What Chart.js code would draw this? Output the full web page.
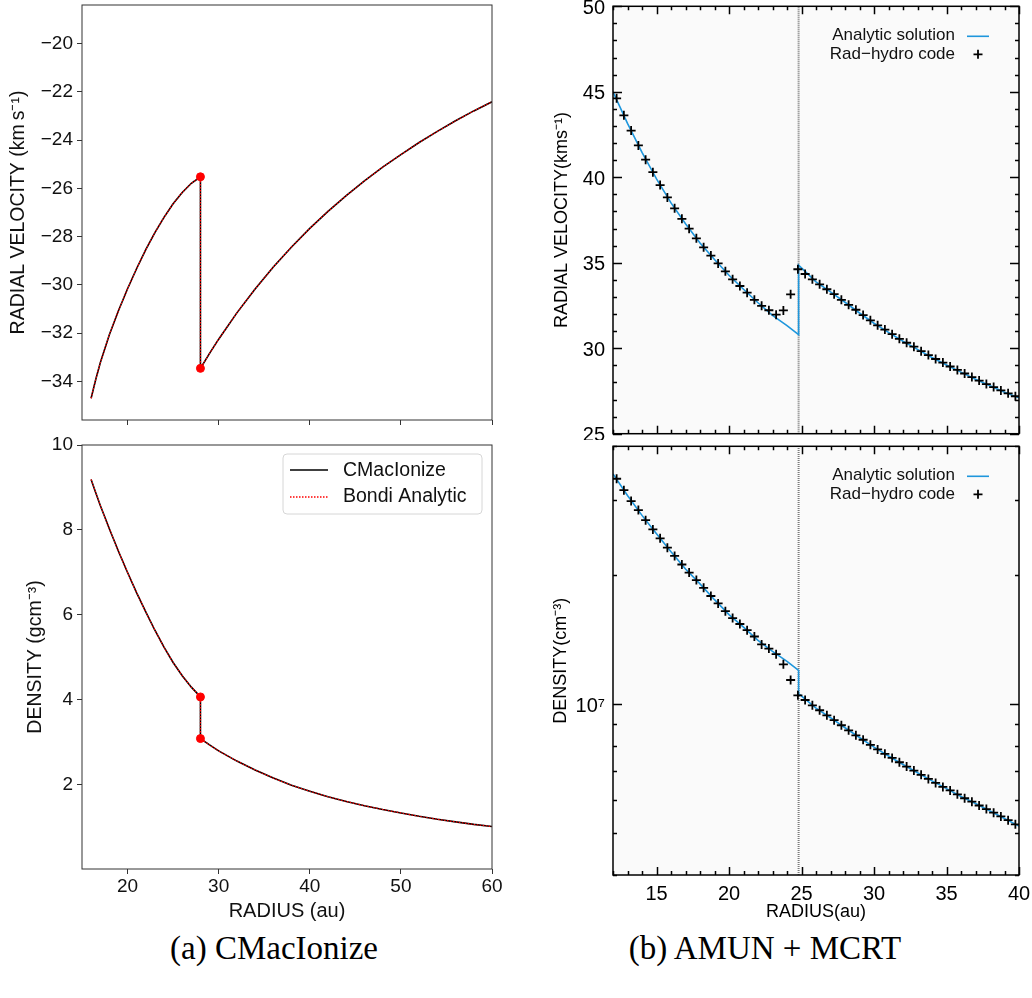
<!DOCTYPE html>
<html>
<head>
<meta charset="utf-8">
<script src="https://cdn.jsdelivr.net/npm/chart.js@4.4.1/dist/chart.umd.min.js"></script>
<style>
  body { margin: 0; background: #fff; width: 1032px; height: 998px; position: relative; overflow: hidden; }
  canvas { position: absolute; }
  .cap { position: absolute; text-align: center; font-family: "Liberation Serif", serif; font-size: 33px; line-height: 40px; color: #000; }
</style>
</head>
<body>
<canvas id="velA" width="512" height="428" style="left:0;top:0"></canvas>
<canvas id="denA" width="512" height="498" style="left:0;top:425px"></canvas>
<canvas id="velB" width="512" height="440" style="left:520px;top:0"></canvas>
<canvas id="denB" width="512" height="483" style="left:520px;top:440px"></canvas>
<div class="cap" style="left:0;width:548px;top:928px">(a) CMacIonize</div>
<div class="cap" style="left:530px;width:470px;top:928px">(b) AMUN + MCRT</div>
<script>
// (a) CMacIonize - radius in au, jump at the shock (x = 28 twice)
const radiusA = [16, 16.5, 17, 18, 19, 20, 21, 22, 23, 24, 25, 26, 27, 28, 28, 29, 30, 32, 34, 36, 38, 40, 42, 44, 46, 48, 50, 52, 54, 56, 58, 60];
const velocityA = [-34.7, -33.93, -33.24, -32.07, -31.07, -30.16, -29.32, -28.54, -27.83, -27.2, -26.64, -26.17, -25.79, -25.52,
                   -33.46, -32.84, -32.25, -31.16, -30.17, -29.26, -28.43, -27.66, -26.95, -26.3, -25.69, -25.12, -24.6, -24.1, -23.64, -23.2, -22.79, -22.41];
const densityA = [9.19, 8.88, 8.58, 8.03, 7.5, 7.0, 6.52, 6.07, 5.64, 5.24, 4.88, 4.57, 4.3, 4.07,
                  3.09, 2.94, 2.8, 2.56, 2.35, 2.16, 1.99, 1.85, 1.72, 1.61, 1.51, 1.42, 1.34, 1.26, 1.19, 1.13, 1.07, 1.02];
const shockA = 28;
const shockVelA = [-25.52, -33.46];
const shockDenA = [4.07, 3.09];
const ticksXA = [20, 30, 40, 50, 60];
const ticksVelA = [-34, -32, -30, -28, -26, -24, -22, -20];
const ticksDenA = [2, 4, 6, 8, 10];

// (b) AMUN + MCRT - code points (crosses)
const radiusB = [12.25, 12.75, 13.25, 13.75, 14.25, 14.75, 15.25, 15.75, 16.25, 16.75, 17.25, 17.75, 18.25, 18.75,
                 19.25, 19.75, 20.25, 20.75, 21.25, 21.75, 22.25, 22.75, 23.25, 23.75, 24.25, 24.75,
                 25.25, 25.75, 26.25, 26.75, 27.25, 27.75, 28.25, 28.75, 29.25, 29.75, 30.25, 30.75, 31.25, 31.75,
                 32.25, 32.75, 33.25, 33.75, 34.25, 34.75, 35.25, 35.75, 36.25, 36.75, 37.25, 37.75, 38.25, 38.75, 39.25, 39.75];
const velocityB = [44.62, 43.62, 42.73, 41.86, 41.03, 40.3, 39.54, 38.82, 38.18, 37.57, 36.99, 36.43, 35.9, 35.42,
                   34.96, 34.5, 34.03, 33.64, 33.25, 32.83, 32.48, 32.22, 31.96, 32.21, 33.15, 34.62,
                   34.34, 34.03, 33.74, 33.45, 33.16, 32.83, 32.54, 32.25, 31.94, 31.63, 31.34, 31.09, 30.82, 30.55,
                   30.32, 30.09, 29.83, 29.6, 29.37, 29.16, 28.93, 28.73, 28.52, 28.31, 28.11, 27.9, 27.73, 27.53, 27.36, 27.19];
const densityB = [3.36e7, 3.16e7, 2.98e7, 2.84e7, 2.69e7, 2.56e7, 2.44e7, 2.32e7, 2.22e7, 2.12e7, 2.03e7, 1.95e7, 1.87e7, 1.79e7,
                  1.72e7, 1.65e7, 1.59e7, 1.54e7, 1.49e7, 1.44e7, 1.38e7, 1.35e7, 1.31e7, 1.24e7, 1.14e7, 1.05e7,
                  1.024e7, 9.95e6, 9.69e6, 9.43e6, 9.19e6, 8.94e6, 8.7e6, 8.47e6, 8.27e6, 8.05e6, 7.85e6, 7.67e6, 7.5e6, 7.33e6,
                  7.16e6, 7.01e6, 6.85e6, 6.7e6, 6.56e6, 6.42e6, 6.3e6, 6.17e6, 6.04e6, 5.93e6, 5.81e6, 5.7e6, 5.59e6, 5.48e6, 5.37e6, 5.25e6];
// analytic solution (blue line), jump at 24.8
const radiusBAn = [12, 13, 14, 15, 16, 17, 18, 19, 20, 21, 22, 23, 24, 24.8, 24.8, 26, 27, 28, 29, 30, 31, 32, 33, 34, 35, 36, 37, 38, 39, 40];
const velocityBAn = [45.0, 43.15, 41.45, 39.9, 38.5, 37.28, 36.16, 35.19, 34.27, 33.45, 32.66, 31.92, 31.32, 30.8,
                     34.86, 33.88, 33.3, 32.69, 32.06, 31.46, 30.93, 30.41, 29.93, 29.46, 29.02, 28.6, 28.19, 27.8, 27.43, 27.1];
const densityBAn = [3.45e7, 3.07e7, 2.76e7, 2.5e7, 2.27e7, 2.07e7, 1.91e7, 1.755e7, 1.62e7, 1.515e7, 1.41e7, 1.33e7, 1.26e7, 1.2e7,
                    1.06e7, 9.8e6, 9.31e6, 8.82e6, 8.37e6, 7.95e6, 7.58e6, 7.24e6, 6.93e6, 6.63e6, 6.36e6, 6.1e6, 5.87e6, 5.64e6, 5.42e6, 5.2e6];
const shockB = 24.8;
const ticksXB = [12, 13, 14, 15, 16, 17, 18, 19, 20, 21, 22, 23, 24, 25, 26, 27, 28, 29, 30, 31, 32, 33, 34, 35, 36, 37, 38, 39, 40];
const ticksVelB = [25, 26, 27, 28, 29, 30, 31, 32, 33, 34, 35, 36, 37, 38, 39, 40, 41, 42, 43, 44, 45, 46, 47, 48, 49, 50];
const ticksDenB = [4e6, 5e6, 6e6, 7e6, 8e6, 9e6, 1e7, 2e7, 3e7, 4e7];

const analyticBlue = '#1e96dc';
Chart.defaults.font.family = '"Liberation Sans", Arial, sans-serif';
Chart.defaults.color = '#111';
Chart.defaults.animation = false;

function pts(xs, ys) {
    return xs.map((x, i) => ({ x: x, y: ys[i] }));
}
function setTicks(list) {
    return (scale) => { scale.ticks = list.map(v => ({ value: v })); };
}
// fixed axis sizes, no extra room for labels at the ends
function fixY(w) {
    return (s) => { s.width = w; s.paddingTop = 0; s.paddingBottom = 0; };
}
function fixX(h) {
    return (s) => { s.height = h; s.paddingLeft = 0; s.paddingRight = 0; };
}

// box around the plot area, optional background
function framePlugin(color, width, fill) {
    return {
        id: 'frame',
        beforeDraw(chart) {
            if (!fill) return;
            const a = chart.chartArea;
            chart.ctx.save();
            chart.ctx.fillStyle = fill;
            chart.ctx.fillRect(a.left, a.top, a.width, a.height);
            chart.ctx.restore();
        },
        afterDraw(chart) {
            const { ctx, chartArea: a } = chart;
            ctx.save();
            ctx.strokeStyle = color;
            ctx.lineWidth = width;
            ctx.strokeRect(a.left, a.top, a.width, a.height);
            ctx.restore();
        }
    };
}

// IDL style ticks: inside, on all four sides
function inTicksPlugin(isMajorY) {
    return {
        id: 'inTicks',
        afterDraw(chart) {
            const { ctx, chartArea: a, scales } = chart;
            ctx.save();
            ctx.strokeStyle = '#000';
            ctx.lineWidth = 1.5;
            ctx.beginPath();
            scales.x.ticks.forEach(t => {
                const px = Math.round(scales.x.getPixelForValue(t.value)) + 0.5;
                const len = t.value % 5 === 0 ? 8 : 4;
                ctx.moveTo(px, a.bottom); ctx.lineTo(px, a.bottom - len);
                ctx.moveTo(px, a.top); ctx.lineTo(px, a.top + len);
            });
            scales.y.ticks.forEach(t => {
                const py = Math.round(scales.y.getPixelForValue(t.value)) + 0.5;
                const len = isMajorY(t.value) ? 9 : 4;
                ctx.moveTo(a.left, py); ctx.lineTo(a.left + len, py);
                ctx.moveTo(a.right, py); ctx.lineTo(a.right - len, py);
            });
            ctx.stroke();
            ctx.restore();
        }
    };
}

// legend of the right panels: text right-aligned, symbol after it
function idlLegendPlugin() {
    return {
        id: 'idlLegend',
        afterDraw(chart) {
            const { ctx, chartArea: a } = chart;
            const ds = chart.data.datasets;
            ctx.save();
            ctx.font = '17px "Liberation Sans"';
            ctx.fillStyle = '#111';
            ctx.textAlign = 'right';
            ctx.textBaseline = 'middle';
            ctx.fillText(ds[1].label, a.right - 64, a.top + 29);
            ctx.fillText(ds[2].label, a.right - 64, a.top + 48);
            ctx.strokeStyle = analyticBlue;
            ctx.lineWidth = 1.6;
            ctx.beginPath();
            ctx.moveTo(a.right - 52, a.top + 30); ctx.lineTo(a.right - 30, a.top + 30);
            ctx.stroke();
            ctx.strokeStyle = '#000';
            ctx.lineWidth = 1.8;
            ctx.beginPath();
            ctx.moveTo(a.right - 45.5, a.top + 48); ctx.lineTo(a.right - 36.5, a.top + 48);
            ctx.moveTo(a.right - 41, a.top + 43.5); ctx.lineTo(a.right - 41, a.top + 52.5);
            ctx.stroke();
            ctx.restore();
        }
    };
}

// matplotlib style legend box
function mplLegendPlugin() {
    return {
        id: 'mplLegend',
        afterDraw(chart) {
            const { ctx, chartArea: a } = chart;
            const ds = chart.data.datasets;
            const bx = a.right - 209, by = a.top + 9, bw = 199, bh = 60;
            ctx.save();
            ctx.beginPath();
            ctx.roundRect(bx, by, bw, bh, 4);
            ctx.fillStyle = 'rgba(255,255,255,0.85)';
            ctx.fill();
            ctx.strokeStyle = '#d6d6d6';
            ctx.lineWidth = 1;
            ctx.stroke();
            ctx.lineWidth = 1.5;
            ctx.strokeStyle = '#000';
            ctx.beginPath();
            ctx.moveTo(bx + 7, by + 16); ctx.lineTo(bx + 45, by + 16);
            ctx.stroke();
            ctx.strokeStyle = '#ff0000';
            ctx.setLineDash([1.5, 1.5]);
            ctx.beginPath();
            ctx.moveTo(bx + 7, by + 43); ctx.lineTo(bx + 45, by + 43);
            ctx.stroke();
            ctx.setLineDash([]);
            ctx.font = '19.5px "Liberation Sans"';
            ctx.fillStyle = '#111';
            ctx.textBaseline = 'middle';
            ctx.fillText(ds[0].label, bx + 60, by + 17);
            ctx.fillText(ds[1].label, bx + 60, by + 43);
            ctx.restore();
        }
    };
}

const gridA = { drawOnChartArea: false, drawTicks: true, tickLength: 5, color: '#333', lineWidth: 1 };

function leftPanel(id, ys, dotY, range, yTicks, yTitle, yTitlePad, bottom) {
    new Chart(document.getElementById(id), {
        type: 'scatter',
        data: {
            datasets: [
                { label: 'CMacIonize', data: pts(radiusA, ys), showLine: true, borderColor: '#000', borderWidth: 1.6, pointRadius: 0, order: 3 },
                { label: 'Bondi Analytic', data: pts(radiusA, ys), showLine: true, borderColor: '#ff0000', borderWidth: 1.2, borderDash: [1.5, 1.5], pointRadius: 0, order: 2 },
                { label: 'shock', data: dotY.map(y => ({ x: shockA, y: y })), pointRadius: 4, backgroundColor: '#ff0000', borderColor: '#ff0000', order: 1 }
            ]
        },
        options: {
            responsive: false,
            layout: { padding: { top: bottom ? 20 : 2, right: 20, left: 0, bottom: 0 } },
            plugins: { legend: { display: false }, tooltip: { enabled: false } },
            scales: {
                x: {
                    type: 'linear', min: 15, max: 60,
                    afterBuildTicks: setTicks(ticksXA),
                    afterFit: fixX(bottom ? 54 : 8),
                    grid: gridA, border: { display: false },
                    ticks: { display: bottom, padding: 1, color: '#111', font: { size: 19 } },
                    title: { display: bottom, text: 'RADIUS (au)', color: '#111', font: { size: 20 }, padding: 0 }
                },
                y: {
                    type: 'linear', min: range[0], max: range[1],
                    afterBuildTicks: setTicks(yTicks),
                    afterFit: fixY(82),
                    grid: gridA, border: { display: false },
                    ticks: { padding: 4, color: '#111', font: { size: 19 }, callback: v => (v < 0 ? '\u2212' + Math.abs(v) : String(v)) },
                    title: { display: true, text: yTitle, color: '#111', font: { size: 19.5 }, padding: { top: yTitlePad, bottom: 0 } }
                }
            }
        },
        plugins: bottom ? [framePlugin('#333', 1), mplLegendPlugin()] : [framePlugin('#333', 1)]
    });
}

leftPanel('velA', velocityA, shockVelA, [-35.6, -18.4], ticksVelA, 'RADIAL VELOCITY (km\u2009s\u207B\u00B9)', 7, false);
leftPanel('denA', densityA, shockDenA, [0.02, 10], ticksDenA, 'DENSITY (gcm\u207B\u00B3)', 24, true);

function rightPanel(id, ys, ysAn, yScale, yTitle, bottom, isMajorY, yLabel) {
    new Chart(document.getElementById(id), {
        type: 'scatter',
        data: {
            datasets: [
                { label: 'shock', data: [{ x: shockB, y: yScale.min }, { x: shockB, y: yScale.max }], showLine: true, borderColor: '#7a7a7a', borderWidth: 2, borderDash: [1, 1], pointRadius: 0, order: 3 },
                { label: 'Analytic solution', data: pts(radiusBAn, ysAn), showLine: true, borderColor: analyticBlue, borderWidth: 1.6, pointRadius: 0, order: 2 },
                { label: 'Rad\u2212hydro code', data: pts(radiusB, ys), pointStyle: 'cross', pointRadius: 4.5, borderColor: '#000', borderWidth: 1.8, order: 1 }
            ]
        },
        options: {
            responsive: false,
            layout: { padding: { top: 4, right: 13, left: 0, bottom: 0 } },
            plugins: { legend: { display: false }, tooltip: { enabled: false } },
            scales: {
                x: {
                    type: 'linear', min: 12, max: 40,
                    afterBuildTicks: setTicks(ticksXB),
                    afterFit: fixX(bottom ? 48 : 5),
                    grid: { display: false, drawTicks: false }, border: { display: false },
                    ticks: { display: bottom, autoSkip: false, maxRotation: 0, padding: 7, color: '#000', font: { size: 20 }, callback: v => (v % 5 === 0 ? String(v) : '') },
                    title: { display: bottom, text: 'RADIUS(au)', color: '#000', font: { size: 18 }, padding: 0 }
                },
                y: Object.assign({
                    afterFit: fixY(93),
                    grid: { display: false, drawTicks: false }, border: { display: false },
                    ticks: { autoSkip: false, padding: 8, labelOffset: 2, color: '#000', font: { size: 20 }, callback: yLabel },
                    title: { display: true, text: yTitle, color: '#000', font: { size: 18 }, padding: { top: bottom ? 30 : 31, bottom: 0 } }
                }, yScale)
            }
        },
        plugins: [framePlugin('#000', 1.5, '#fafafa'), inTicksPlugin(isMajorY), idlLegendPlugin()]
    });
}

rightPanel('velB', velocityB, velocityBAn,
    { type: 'linear', min: 25, max: 50, afterBuildTicks: setTicks(ticksVelB) },
    'RADIAL VELOCITY(kms\u207B\u00B9)', false,
    v => v % 5 === 0, v => (v % 5 === 0 ? String(v) : ''));
rightPanel('denB', densityB, densityBAn,
    { type: 'logarithmic', min: 4e6, max: 4e7, afterBuildTicks: setTicks(ticksDenB) },
    'DENSITY(cm\u207B\u00B3)', true,
    v => v === 1e7, v => (v === 1e7 ? '10\u2077' : ''));
</script>
</body>
</html>
